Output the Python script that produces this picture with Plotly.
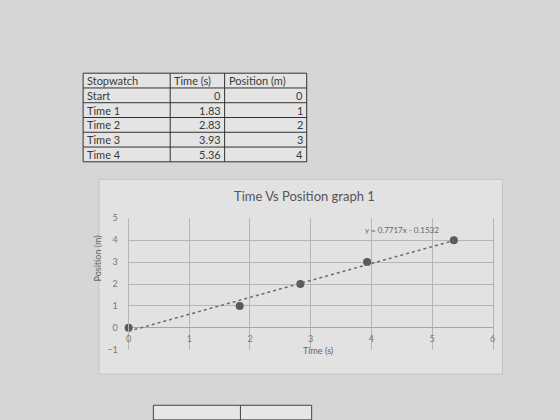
import plotly.graph_objects as go

# ---- data ----
labels = ["Start", "Time 1", "Time 2", "Time 3", "Time 4"]
times = [0, 1.83, 2.83, 3.93, 5.36]
positions = [0, 1, 2, 3, 4]
table_headers = ["Stopwatch", "Time (s)", "Position (m)"]
slope = 0.7717
intercept = -0.1532
trend_x = [0.0, 5.36]
x_ticks = [0, 1, 2, 3, 4, 5, 6]
y_ticks = [-1, 0, 1, 2, 3, 4, 5]

W, H = 560, 420
def px(x):
    return x / W
def py(y):
    return 1 - y / H

FONT = "Lato"
fig = go.Figure()

# data points
fig.add_trace(go.Scatter(x=times, y=positions, mode="markers",
                         marker=dict(size=8, color="#5a5a5a"),
                         showlegend=False, cliponaxis=False))
# trendline
fig.add_trace(go.Scatter(x=trend_x, y=[slope * x + intercept for x in trend_x],
                         mode="lines", line=dict(color="#6a6a6a", width=1.5, dash="dot"),
                         showlegend=False))

shapes = [
    dict(type="rect", xref="paper", yref="paper", x0=px(97), x1=px(505),
         y0=py(378), y1=py(178), line=dict(color="#c4c4c4", width=1),
         fillcolor="#e2e2e2", layer="below"),
    dict(type="rect", xref="paper", yref="paper", x0=px(152), x1=px(312),
         y0=py(425), y1=py(410), line=dict(color="#444444", width=1),
         fillcolor="#e6e6e6", layer="below"),
    dict(type="line", xref="paper", yref="paper", x0=px(240), x1=px(240),
         y0=py(425), y1=py(410), line=dict(color="#444444", width=1)),
]
annotations = []

# ---- table built from the data lists ----
col_edges = [81, 169, 224, 307]
row_top, row_bottom = 69, 160
n_rows = len(labels) + 1
row_h = (row_bottom - row_top) / n_rows
shapes.append(dict(type="rect", xref="paper", yref="paper",
                   x0=px(col_edges[0]), x1=px(col_edges[-1]),
                   y0=py(row_bottom), y1=py(row_top),
                   line=dict(color="#333333", width=1), fillcolor="#e4e4e4",
                   layer="below"))
for i in range(1, n_rows):
    yy = row_top + i * row_h
    shapes.append(dict(type="line", xref="paper", yref="paper",
                       x0=px(col_edges[0]), x1=px(col_edges[-1]),
                       y0=py(yy), y1=py(yy), line=dict(color="#333333", width=1)))
for xx in col_edges[1:-1]:
    shapes.append(dict(type="line", xref="paper", yref="paper",
                       x0=px(xx), x1=px(xx), y0=py(row_bottom), y1=py(row_top),
                       line=dict(color="#333333", width=1)))

rows = [table_headers] + [[l, f"{t:g}", str(p)] for l, t, p in zip(labels, times, positions)]
for r, row in enumerate(rows):
    yc = row_top + (r + 0.5) * row_h
    for c, txt in enumerate(row):
        if r == 0 or c == 0:
            x, anchor = col_edges[c] + 2, "left"
        else:
            x, anchor = col_edges[c + 1] - 2, "right"
        annotations.append(dict(text=txt, xref="paper", yref="paper",
                                x=px(x), y=py(yc), xanchor=anchor, yanchor="middle",
                                showarrow=False,
                                font=dict(family=FONT, size=11, color="#3a3a3a")))

annotations += [
    dict(text="Time Vs Position graph 1", xref="paper", yref="paper",
         x=px(305), y=py(195), showarrow=False,
         font=dict(size=13, color="#555555", family=FONT)),
    dict(text="Time (s)", xref="paper", yref="paper",
         x=px(318), y=py(361), showarrow=False,
         font=dict(size=9, color="#666666", family=FONT)),
    dict(text="Position (m)", xref="paper", yref="paper", textangle=-90,
         x=px(96), y=py(285), xanchor="center", showarrow=False,
         font=dict(size=9, color="#666666", family=FONT)),
    dict(text="y = 0.7717x - 0.1532", xref="x", yref="y",
         x=4.5, y=4.45, showarrow=False,
         font=dict(size=8, color="#666666", family=FONT)),
]

fig.update_layout(
    width=W, height=H, margin=dict(l=0, r=0, t=0, b=0),
    paper_bgcolor="#d6d6d6", plot_bgcolor="#e2e2e2",
    font=dict(family=FONT, color="#666666"),
    showlegend=False,
    xaxis=dict(domain=[px(127), px(495)], range=[0, 6], tickvals=x_ticks,
               anchor="free", position=py(332),
               showgrid=True, gridcolor="#b5b5b5", gridwidth=1,
               zeroline=False, showline=False,
               tickfont=dict(size=9, color="#777777"), ticks="",
               ticklabelstandoff=3),
    yaxis=dict(domain=[py(353), py(218)], range=[-1, 5], tickvals=y_ticks,
               showgrid=True, gridcolor="#b5b5b5", gridwidth=1,
               zeroline=True, zerolinecolor="#a5a5a5", zerolinewidth=1,
               showline=True, linecolor="#b5b5b5", mirror=True,
               tickfont=dict(size=9, color="#777777"), ticks="",
               ticklabelstandoff=8),
    shapes=shapes,
    annotations=annotations,
)

fig.write_html("out.html")
